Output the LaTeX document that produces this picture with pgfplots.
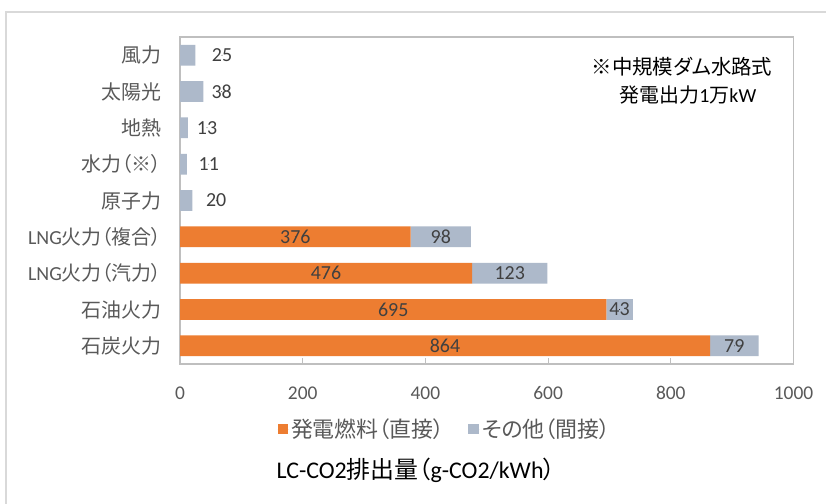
\documentclass[border=0pt]{standalone}
\usepackage{fontspec}
\setmainfont{Carlito}
\newfontfamily\jp[RawFeature=+palt]{Noto Sans CJK JP}
\usepackage{pgfplots}
\usepackage{pgfplotstable}
\pgfplotsset{compat=1.18}
\definecolor{cOrange}{HTML}{ED7D31}
\definecolor{cGray}{HTML}{ADB9CA}
\definecolor{axgray}{HTML}{BFBFBF}
\definecolor{frgray}{HTML}{D9D9D9}
\definecolor{lab}{HTML}{595959}
\definecolor{dl}{HTML}{404040}
\newcommand\J[1]{{\jp #1}}

% y index: 0 石炭火力, 1 石油火力, 2 LNG火力(汽力), 3 LNG火力(複合), 4 原子力, 5 水力, 6 地熱, 7 太陽光, 8 風力
\pgfplotstableread{
y direct indirect
0 864 79
1 695 43
2 476 123
3 376 98
4 0 20
5 0 11
6 0 13
7 0 38
8 0 25
}\emissions

\pgfplotstableread{
x y lab
432 0 864
903.5 0 79
347.5 1 695
716.5 1 43
238 2 476
537.5 2 123
188 3 376
425 3 98
59 4 20
47 5 11
44 6 13
68 7 38
68.5 8 25
}\labels

\begin{document}
\begin{tikzpicture}[x=1bp,y=1bp]
\useasboundingbox (0,0) rectangle (826,504);
\fill[white] (0,0) rectangle (826,504);
\draw[frgray, line width=1.5bp] (6,0) -- (6,492) -- (826,492);
\begin{axis}[
  at={(180bp,140bp)}, anchor=south west,
  scale only axis, width=613.5bp, height=327bp,
  xmin=0, xmax=1000, ymin=-0.5, ymax=8.5,
  xbar stacked, bar width=20.7bp,
  xtick={0,200,...,1000},
  ytick={0,...,8},
  yticklabels={\J{石炭火力},\J{石油火力},{LNG\J{火力（汽力）}},{LNG\J{火力（複合）}},\J{原子力},\J{水力（※）},\J{地熱},\J{太陽光},\J{風力}},
  /pgf/number format/assume math mode=true,
  /pgf/number format/1000 sep={},
  xticklabel style={font=\fontsize{19.5}{19.5}\selectfont, text=lab, yshift=-19bp},
  yticklabel style={font=\fontsize{20}{20}\selectfont, text=lab, xshift=-15bp},
  axis line style={draw=axgray, line width=1.5bp},
  tick align=inside, xtick pos=bottom,
  major tick length=6bp,
  xtick style={draw=axgray, line width=1bp},
  ytick style={draw=none},
  legend columns=2,
  legend style={at={(0.432,-0.199)}, anchor=center, draw=none, fill=none,
    font=\jp\fontsize{22}{22}\selectfont, text=lab,
    /tikz/every even column/.append style={column sep=22bp}},
  legend image code/.code={\fill[#1] (0bp,-5.4bp) rectangle (10.8bp,5.4bp); \path (0bp,0bp) -- (11.5bp,0bp);},
]
\addplot[fill=cOrange, draw=none] table[x=direct, y=y] {\emissions};
\addlegendentry{発電燃料（直接）}
\addplot[fill=cGray, draw=none] table[x=indirect, y=y] {\emissions};
\addlegendentry{その他（間接）}
\end{axis}
\begin{axis}[
  at={(180bp,140bp)}, anchor=south west,
  scale only axis, width=613.5bp, height=327bp,
  xmin=0, xmax=1000, ymin=-0.5, ymax=8.5,
  hide axis,
]
\addplot[only marks, mark=*, mark options={draw=none, fill=none}, mark size=0.1pt,
  nodes near coords, point meta=explicit symbolic,
  every node near coord/.style={anchor=center, font=\fontsize{20}{20}\selectfont, text=dl}]
  table[x=x, y=y, meta=lab] {\labels};
\end{axis}
\node[font=\fontsize{24}{24}\selectfont, text=black] at (416,34) {LC-CO2\J{排出量（}g-CO2/kWh\J{）}};
\node[font=\jp\fontsize{20.5}{20.5}\selectfont, text=black] at (682,437) {※中規模ダム水路式};
\node[font=\fontsize{20}{20}\selectfont, text=black] at (688,409) {\J{発電出力}1\J{万}kW};
\end{tikzpicture}
\end{document}
